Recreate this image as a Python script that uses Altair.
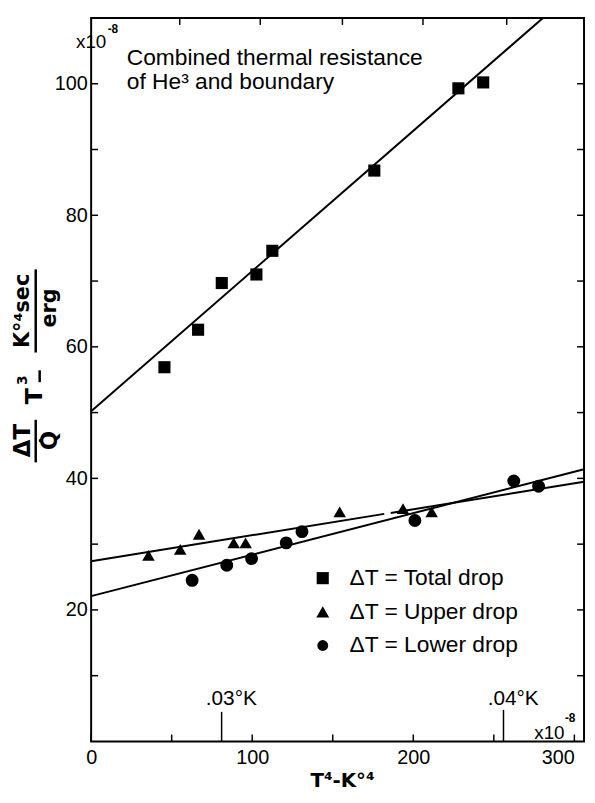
import altair as alt
import pandas as pd

# ---- values (x: T^4 in 1e-8 K^4, y: 1e-8 K^4 sec/erg) ----
total_x = [45.5, 66.4, 81.1, 102.6, 112.5, 175.8, 228.0, 243.4]
total_y = [56.9, 62.6, 69.7, 71.0, 74.6, 86.8, 99.3, 100.2]
upper_x = [35.6, 55.3, 67.0, 88.5, 95.9, 154.3, 193.6, 211.4]
upper_y = [28.3, 29.2, 31.5, 30.2, 30.2, 34.9, 35.4, 34.9]
lower_x = [62.7, 84.2, 99.6, 121.1, 130.9, 201.0, 262.4, 277.8]
lower_y = [24.5, 26.8, 27.8, 30.2, 31.9, 33.6, 39.6, 38.8]

series_labels = ["ΔT = Total drop", "ΔT = Upper drop", "ΔT = Lower drop"]
series_shapes = ["square", "triangle-up", "circle"]
series_sizes = [150, 170, 120]

# fitted straight lines, given by their end points (upper line has a small break)
fit_x0 = [0, 0, 186, 0]
fit_y0 = [50.2, 27.4, 34.75, 22.1]
fit_x1 = [280.5, 182, 306, 306]
fit_y1 = [110, 34.6, 39.5, 41.4]

# temperature markers on the T^4 axis
temp_labels = [".03°K", ".04°K"]
temp_x = [81, 256]
temp_tick_top = [4.5, 4.8]
temp_label_y = [6.4, 6.4]

x_labels = [0, 100, 200, 300]
x_ticks = [0, 50, 100, 150, 200, 250, 300]
x_top_ticks = [55, 105, 156, 206, 258]
y_labels = [20, 40, 60, 80, 100]
y_ticks = [10, 20, 30, 40, 50, 60, 70, 80, 90, 100]

XMAX, YMAX = 306, 110
W, H = 498, 731
TICK_PX = 7
FONT = "Liberation Sans"
SUPFONT = "DejaVu Sans"

xs = alt.Scale(domain=[0, XMAX], nice=False, zero=False)
ys = alt.Scale(domain=[0, YMAX], nice=False, zero=False)

series_col = ([series_labels[0]] * len(total_x) + [series_labels[1]] * len(upper_x)
              + [series_labels[2]] * len(lower_x))
pts = pd.DataFrame({
    "x": total_x + upper_x + lower_x,
    "y": total_y + upper_y + lower_y,
    "s": series_col,
})

# all straight segments in one table: fitted lines, temperature marks, inward frame ticks
tl_y = TICK_PX / H * YMAX   # tick length in y data units
tl_x = TICK_PX / W * XMAX   # tick length in x data units
seg_x0, seg_y0, seg_x1, seg_y1, seg_w = [], [], [], [], []
def add(xa, ya, xb, yb, w):
    seg_x0.append(xa); seg_y0.append(ya); seg_x1.append(xb); seg_y1.append(yb); seg_w.append(w)
for a, b, c, d in zip(fit_x0, fit_y0, fit_x1, fit_y1):
    add(a, b, c, d, 2.0)
for xv, top in zip(temp_x, temp_tick_top):
    add(xv, 0, xv, top, 1.5)
for v in x_ticks:
    add(v, 0, v, tl_y, 1.5)
for v in x_top_ticks:
    add(v, YMAX, v, YMAX - tl_y, 1.5)
for v in y_ticks:
    add(0, v, tl_x, v, 1.5)
    add(XMAX, v, XMAX - tl_x, v, 1.5)
segs = pd.DataFrame({"x0": seg_x0, "y0": seg_y0, "x1": seg_x1, "y1": seg_y1, "w": seg_w})

temps = pd.DataFrame({"x": temp_x, "ly": temp_label_y, "lab": temp_labels})

XA = alt.Axis(orient="bottom", values=x_labels, ticks=False, domain=False, grid=False,
              labelFontSize=20, labelFont=FONT, labelColor="black", labelPadding=6,
              labelFlush=False, title=None,
              labelAlign={"condition": {"test": "datum.value == 300", "value": "right"},
                          "value": "center"})
YA = alt.Axis(orient="left", values=y_labels, ticks=False, domain=False, grid=False,
              labelFontSize=20, labelFont=FONT, labelColor="black", labelPadding=4,
              title=None)

seg_layer = alt.Chart(segs).mark_rule(color="black").encode(
    x=alt.X("x0:Q", scale=xs, axis=XA),
    y=alt.Y("y0:Q", scale=ys, axis=YA),
    x2="x1:Q", y2="y1:Q",
    strokeWidth=alt.StrokeWidth("w:Q", scale=None),
)

pt_layer = alt.Chart(pts).mark_point(filled=True, color="black", opacity=1).encode(
    x=alt.X("x:Q", scale=xs, axis=XA),
    y=alt.Y("y:Q", scale=ys, axis=YA),
    shape=alt.Shape("s:N", scale=alt.Scale(domain=series_labels, range=series_shapes), legend=None),
    size=alt.Size("s:N", scale=alt.Scale(domain=series_labels, range=series_sizes), legend=None),
)

temp_text = alt.Chart(temps).mark_text(align="left", baseline="middle", dx=-16, fontSize=21,
                                       font=FONT, color="black").encode(
    x=alt.X("x:Q", scale=xs, axis=XA),
    y=alt.Y("ly:Q", scale=ys, axis=YA),
    text="lab:N",
)

def txt(s, x, y, size, angle=0, bold=False, align="center", font=FONT):
    return alt.Chart(pd.DataFrame({"txt": [s]})).mark_text(
        align=align, baseline="middle", fontSize=size, angle=angle, font=font,
        fontWeight="bold" if bold else "normal", color="black",
    ).encode(text="txt:N", x=alt.value(x), y=alt.value(y))

def vbar(x, y0, y1, w=2.5):
    return alt.Chart(pd.DataFrame({"k": [0]})).mark_rule(color="black", strokeWidth=w).encode(
        x=alt.value(x), y=alt.value(y0), y2=alt.value(y1))

# legend (symbol + label per series)
legend_layers = []
for i, (lab, shp, sz) in enumerate(zip(series_labels, series_shapes, series_sizes)):
    yy = 566 + i * 34
    legend_layers.append(
        alt.Chart(pd.DataFrame({"k": [0]})).mark_point(
            filled=True, color="black", opacity=1, shape=shp, size=sz
        ).encode(x=alt.value(234), y=alt.value(yy))
    )
    legend_layers.append(txt(lab, 261, yy, 23, align="left"))

annotations = [
    # title inside the plot
    txt("Combined thermal resistance", 36, 41, 23, align="left"),
    txt("of He³ and boundary", 36, 65, 23, align="left"),
    # scale factors
    txt("x10", 0, 24, 19),
    txt("-8", 22, 11, 12, bold=True),
    txt("x10", 463, 723, 19),
    txt("-8", 484, 707, 12, bold=True),
    # x axis title
    txt("T⁴-K°⁴", 254, 771, 20, bold=True, font=SUPFONT),
    # y axis title (rotated fractions)
    txt("ΔT", -69, 427, 23, angle=270, bold=True, font=SUPFONT),
    vbar(-56, 406, 449),
    alt.Chart(pd.DataFrame({"k": [0]})).mark_point(filled=True, color="black", size=14, opacity=1)
       .encode(x=alt.value(-51), y=alt.value(427)),
    txt("Q", -41, 427, 23, angle=270, bold=True, font=SUPFONT),
    txt("T", -57, 382, 24, angle=270, bold=True, font=SUPFONT),
    txt("3", -69, 366, 14, angle=270, bold=True, font=SUPFONT),
    vbar(-52, 356, 368, 2.5),
    txt("K°⁴sec", -69, 296, 21, angle=270, bold=True, font=SUPFONT),
    vbar(-56, 254, 338),
    txt("erg", -42, 293, 21, angle=270, bold=True, font=SUPFONT),
]

chart = alt.layer(
    seg_layer, pt_layer, temp_text, *legend_layers, *annotations
).properties(
    width=W, height=H,
    padding={"left": 84, "top": 6, "right": 3, "bottom": 48},
    autosize=alt.AutoSizeParams(type="none"),
    background="white",
).configure_view(stroke="black", strokeWidth=2)

chart.save("out.html", embed_options={"renderer": "svg", "actions": False})
